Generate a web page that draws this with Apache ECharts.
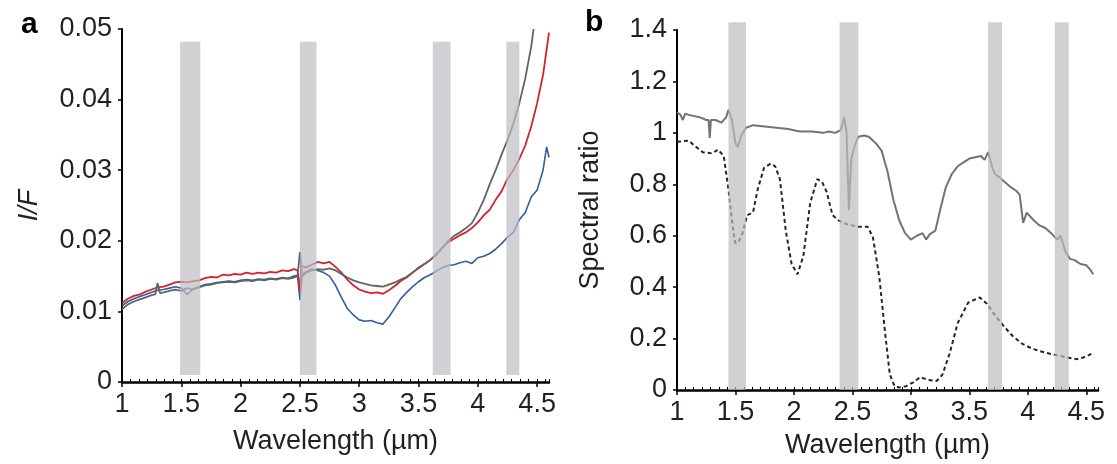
<!DOCTYPE html>
<html>
<head>
<meta charset="utf-8">
<script src="https://cdn.jsdelivr.net/npm/echarts@6/dist/echarts.min.js"></script>
<style>
  html, body { margin: 0; padding: 0; background: #fff; }
  #chart { width: 1117px; height: 464px; }
</style>
</head>
<body>
<div id="chart"></div>
<script>
// panel a: I/F spectra, [wavelength, value]
const redA = [
  [1.00, 0.0112], [1.05, 0.0118], [1.10, 0.0122], [1.15, 0.0124], [1.20, 0.0128], [1.25, 0.0131],
  [1.30, 0.0134], [1.35, 0.0135], [1.40, 0.0138], [1.45, 0.0141], [1.50, 0.0142], [1.55, 0.0141],
  [1.60, 0.0143], [1.65, 0.0144], [1.70, 0.0147], [1.75, 0.0149], [1.80, 0.0148], [1.85, 0.0152],
  [1.90, 0.0151], [1.95, 0.0153], [2.00, 0.0152], [2.05, 0.0155], [2.10, 0.0153], [2.15, 0.0155],
  [2.20, 0.0154], [2.25, 0.0156], [2.30, 0.0155], [2.35, 0.0158], [2.40, 0.0157], [2.45, 0.0160],
  [2.48, 0.0158], [2.50, 0.0126], [2.51, 0.0165], [2.55, 0.0162], [2.60, 0.0166], [2.65, 0.0170],
  [2.70, 0.0168], [2.75, 0.0170], [2.80, 0.0163], [2.85, 0.0155], [2.90, 0.0145], [2.95, 0.0137],
  [3.00, 0.0131], [3.05, 0.0128], [3.10, 0.0126], [3.15, 0.0127], [3.20, 0.0125], [3.25, 0.0130],
  [3.30, 0.0136], [3.35, 0.0143], [3.40, 0.0148], [3.45, 0.0155], [3.50, 0.0162], [3.55, 0.0167],
  [3.60, 0.0173], [3.65, 0.0180], [3.70, 0.0190], [3.75, 0.0198], [3.80, 0.0203], [3.85, 0.0208],
  [3.90, 0.0212], [3.95, 0.0218], [4.00, 0.0226], [4.05, 0.0236], [4.10, 0.0244], [4.15, 0.0258],
  [4.20, 0.0270], [4.25, 0.0288], [4.30, 0.0300], [4.35, 0.0316], [4.40, 0.0335], [4.45, 0.0362],
  [4.50, 0.0395], [4.55, 0.0435], [4.60, 0.0495]
];
const grayA = [
  [1.00, 0.0103], [1.05, 0.0110], [1.10, 0.0114], [1.15, 0.0117], [1.20, 0.0120], [1.25, 0.0123],
  [1.28, 0.0124], [1.30, 0.0140], [1.32, 0.0126], [1.35, 0.0127], [1.40, 0.0129], [1.45, 0.0131],
  [1.50, 0.0129], [1.55, 0.0133], [1.60, 0.0131], [1.65, 0.0134], [1.70, 0.0137], [1.75, 0.0138],
  [1.80, 0.0140], [1.85, 0.0141], [1.90, 0.0142], [1.95, 0.0141], [2.00, 0.0143], [2.05, 0.0144],
  [2.10, 0.0143], [2.15, 0.0145], [2.20, 0.0144], [2.25, 0.0146], [2.30, 0.0145], [2.35, 0.0147],
  [2.40, 0.0146], [2.45, 0.0148], [2.48, 0.0150], [2.50, 0.0184], [2.52, 0.0150], [2.55, 0.0155],
  [2.60, 0.0158], [2.65, 0.0160], [2.70, 0.0159], [2.75, 0.0161], [2.80, 0.0158], [2.85, 0.0153],
  [2.90, 0.0148], [2.95, 0.0144], [3.00, 0.0141], [3.05, 0.0139], [3.10, 0.0137], [3.15, 0.0136],
  [3.20, 0.0135], [3.25, 0.0138], [3.30, 0.0141], [3.35, 0.0145], [3.40, 0.0149], [3.45, 0.0155],
  [3.50, 0.0161], [3.55, 0.0167], [3.60, 0.0173], [3.65, 0.0181], [3.70, 0.0190], [3.75, 0.0200],
  [3.80, 0.0207], [3.85, 0.0212], [3.90, 0.0218], [3.95, 0.0225], [4.00, 0.0240], [4.05, 0.0258],
  [4.10, 0.0280], [4.15, 0.0300], [4.20, 0.0322], [4.25, 0.0343], [4.30, 0.0366], [4.35, 0.0395],
  [4.40, 0.0430], [4.45, 0.0475], [4.47, 0.0500]
];
const blueA = [
  [1.00, 0.0108], [1.05, 0.0114], [1.10, 0.0118], [1.15, 0.0121], [1.20, 0.0124], [1.25, 0.0127],
  [1.30, 0.0130], [1.35, 0.0131], [1.40, 0.0133], [1.45, 0.0135], [1.50, 0.0133], [1.55, 0.0124],
  [1.60, 0.0132], [1.65, 0.0135], [1.70, 0.0138], [1.75, 0.0139], [1.80, 0.0141], [1.85, 0.0142],
  [1.90, 0.0143], [1.95, 0.0142], [2.00, 0.0144], [2.05, 0.0145], [2.10, 0.0144], [2.15, 0.0146],
  [2.20, 0.0145], [2.25, 0.0147], [2.30, 0.0146], [2.35, 0.0148], [2.40, 0.0147], [2.45, 0.0150],
  [2.48, 0.0151], [2.50, 0.0116], [2.52, 0.0152], [2.55, 0.0156], [2.60, 0.0160], [2.65, 0.0158],
  [2.70, 0.0155], [2.75, 0.0150], [2.80, 0.0137], [2.85, 0.0120], [2.90, 0.0104], [2.95, 0.0095],
  [3.00, 0.0088], [3.05, 0.0086], [3.10, 0.0087], [3.15, 0.0084], [3.20, 0.0082], [3.25, 0.0092],
  [3.30, 0.0105], [3.35, 0.0118], [3.40, 0.0127], [3.45, 0.0135], [3.50, 0.0142], [3.55, 0.0148],
  [3.60, 0.0152], [3.65, 0.0157], [3.70, 0.0162], [3.75, 0.0165], [3.80, 0.0166], [3.85, 0.0169],
  [3.90, 0.0171], [3.95, 0.0168], [4.00, 0.0176], [4.05, 0.0178], [4.10, 0.0182], [4.15, 0.0188],
  [4.20, 0.0196], [4.25, 0.0205], [4.30, 0.0212], [4.35, 0.0230], [4.40, 0.0240], [4.45, 0.0262],
  [4.50, 0.0272], [4.55, 0.0300], [4.58, 0.0333], [4.60, 0.0318]
];

// panel b: spectral ratios
const solidB = [
  [1.00, 1.08], [1.03, 1.07], [1.05, 1.05], [1.07, 1.075], [1.10, 1.07], [1.15, 1.065], [1.20, 1.06],
  [1.25, 1.05], [1.27, 1.05], [1.28, 0.98], [1.29, 1.05], [1.33, 1.05], [1.38, 1.04], [1.42, 1.06],
  [1.44, 1.09], [1.47, 1.05], [1.50, 0.96], [1.52, 0.945], [1.55, 0.99], [1.59, 1.02], [1.65, 1.03],
  [1.75, 1.025], [1.85, 1.02], [1.95, 1.015], [2.05, 1.005], [2.15, 1.005], [2.25, 1.0], [2.30, 1.005],
  [2.35, 1.0], [2.40, 1.01], [2.43, 1.06], [2.45, 1.0], [2.47, 0.70], [2.49, 0.90], [2.52, 0.95],
  [2.55, 0.985], [2.60, 0.99], [2.64, 0.985], [2.70, 0.96], [2.75, 0.93], [2.80, 0.85], [2.85, 0.74],
  [2.90, 0.66], [2.95, 0.61], [3.00, 0.585], [3.05, 0.60], [3.10, 0.61], [3.13, 0.585], [3.16, 0.605],
  [3.21, 0.62], [3.25, 0.70], [3.30, 0.79], [3.35, 0.84], [3.40, 0.87], [3.45, 0.885], [3.50, 0.90],
  [3.55, 0.905], [3.60, 0.91], [3.63, 0.895], [3.66, 0.925], [3.70, 0.86], [3.72, 0.84], [3.75, 0.83],
  [3.80, 0.81], [3.85, 0.79], [3.90, 0.775], [3.93, 0.76], [3.96, 0.65], [3.99, 0.69], [4.05, 0.66],
  [4.10, 0.64], [4.15, 0.63], [4.20, 0.61], [4.25, 0.585], [4.28, 0.60], [4.32, 0.54], [4.36, 0.51],
  [4.40, 0.505], [4.45, 0.49], [4.50, 0.485], [4.53, 0.47], [4.56, 0.45]
];
const dashedB = [
  [1.00, 0.965], [1.10, 0.97], [1.15, 0.95], [1.22, 0.925], [1.30, 0.92], [1.35, 0.935], [1.40, 0.91],
  [1.44, 0.78], [1.48, 0.62], [1.50, 0.57], [1.53, 0.58], [1.56, 0.61], [1.60, 0.68], [1.65, 0.69],
  [1.69, 0.78], [1.745, 0.865], [1.80, 0.88], [1.84, 0.87], [1.88, 0.82], [1.93, 0.62], [1.98, 0.49],
  [2.03, 0.45], [2.08, 0.52], [2.14, 0.73], [2.20, 0.82], [2.24, 0.81], [2.28, 0.77], [2.33, 0.68],
  [2.38, 0.66], [2.45, 0.645], [2.55, 0.635], [2.63, 0.635], [2.675, 0.595], [2.73, 0.44], [2.78, 0.22],
  [2.82, 0.06], [2.86, 0.015], [2.90, 0.01], [2.96, 0.015], [3.02, 0.03], [3.08, 0.05], [3.14, 0.04],
  [3.22, 0.035], [3.27, 0.06], [3.33, 0.14], [3.40, 0.26], [3.49, 0.34], [3.59, 0.36], [3.65, 0.335],
  [3.72, 0.29], [3.80, 0.245], [3.87, 0.21], [3.95, 0.18], [4.04, 0.16], [4.15, 0.145], [4.25, 0.135],
  [4.35, 0.125], [4.42, 0.12], [4.50, 0.13], [4.56, 0.145]
];

// shaded wavelength bands: [start, end, bottom, top]
const bandsA = [[1.49, 1.66, 0.001, 0.0482], [2.50, 2.64, 0.001, 0.0482], [3.62, 3.77, 0.001, 0.0482], [4.24, 4.35, 0.001, 0.0482]];
const bandsB = [[1.44, 1.59, 0, 1.43], [2.39, 2.55, 0, 1.43], [3.66, 3.78, 0, 1.43], [4.23, 4.35, 0, 1.43]];

const FONT = "Liberation Sans";
const TXT = "#231f20";

let chart = echarts.init(document.getElementById("chart"));

function xMain(gridIndex, gap) {
  return {
    type: "value", gridIndex, min: 1, max: 4.6, interval: 0.5,
    name: "Wavelength (\u00b5m)", nameLocation: "middle", nameGap: gap,
    nameTextStyle: { fontFamily: FONT, fontSize: 27, color: TXT },
    splitLine: { show: false },
    axisLine: { lineStyle: { color: "#000", width: 2.5 } },
    axisTick: { length: 5, lineStyle: { color: "#000", width: 1.5 } },
    axisLabel: { fontFamily: FONT, fontSize: 27, color: TXT, margin: 9, showMaxLabel: false },
  };
}
function xMinor(gridIndex) {
  return {
    type: "value", gridIndex, min: 1, max: 4.6, interval: 1 / 14, position: "bottom",
    axisLine: { show: false }, splitLine: { show: false }, axisLabel: { show: false },
    axisTick: { inside: true, length: 3, lineStyle: { color: "#000", width: 1 } },
  };
}
function yAxis(gridIndex, max, interval, name, gap, italic) {
  return {
    type: "value", gridIndex, min: 0, max, interval,
    name, nameLocation: "middle", nameGap: gap,
    nameTextStyle: { fontFamily: FONT, fontSize: 27, color: TXT, fontStyle: italic ? "italic" : "normal" },
    splitLine: { show: false },
    axisLine: { show: true, lineStyle: { color: "#000", width: 2 } },
    axisTick: { length: 4, lineStyle: { color: "#000", width: 1.5 } },
    axisLabel: { fontFamily: FONT, fontSize: 27, color: TXT, margin: 10 },
  };
}
function lineSeries(data, xi, yi, color, width, type) {
  return {
    type: "line", data, xAxisIndex: xi, yAxisIndex: yi, showSymbol: false, z: 2,
    lineStyle: { color, width, type: type || "solid" },
  };
}
function bandSeries(data, xi, yi) {
  return {
    type: "custom", data, xAxisIndex: xi, yAxisIndex: yi, z: 5,
    encode: { x: [0, 1], y: [2, 3] },
    renderItem: (params, api) => {
      let p0 = api.coord([api.value(0), api.value(3)]);
      let p1 = api.coord([api.value(1), api.value(2)]);
      return {
        type: "rect",
        shape: { x: p0[0], y: p0[1], width: p1[0] - p0[0], height: p1[1] - p0[1] },
        style: { fill: "rgba(190,190,195,0.7)" },
      };
    },
  };
}

let option = {
  animation: false,
  title: [
    { text: "a", left: 16, top: 5, textStyle: { fontFamily: FONT, fontSize: 30, fontWeight: "bold", color: "#000" } },
    { text: "b", left: 580, top: 3, textStyle: { fontFamily: FONT, fontSize: 30, fontWeight: "bold", color: "#000" } },
  ],
  grid: [
    { left: 122, top: 29, width: 427, height: 353 },
    { left: 677, top: 30, width: 421, height: 360 },
  ],
  xAxis: [xMain(0, 46), xMinor(0), xMain(1, 42), xMinor(1)],
  yAxis: [
    yAxis(0, 0.05, 0.01, "I/F", 79, true),
    yAxis(1, 1.4, 0.2, "Spectral ratio", 73, false),
  ],
  series: [
    lineSeries(blueA, 0, 0, "#2f5f9c", 1.6),
    lineSeries(redA, 0, 0, "#d3232c", 1.8),
    lineSeries(grayA, 0, 0, "#636363", 1.8),
    bandSeries(bandsA, 0, 0),
    lineSeries(solidB, 2, 1, "#737373", 2),
    lineSeries(dashedB, 2, 1, "#262626", 2, [4, 3]),
    bandSeries(bandsB, 2, 1),
  ],
};
chart.setOption(option);
</script>
</body>
</html>
